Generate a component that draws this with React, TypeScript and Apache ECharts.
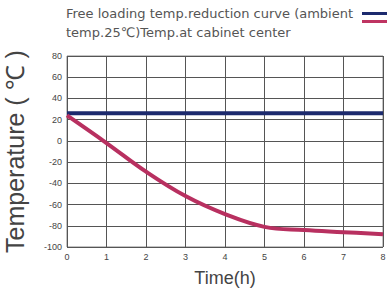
import React, { useEffect, useRef } from "react";
import * as echarts from "echarts";

const hours = [0, 1, 2, 3, 4, 5, 6, 7, 8];
const ambientTemp = [26, 26, 26, 26, 26, 26, 26, 26, 26];
const centerTemp = [24, -2, -29, -52, -69, -81, -84, -86, -88];
const legendLines = ["Free loading temp.reduction curve (ambient", "temp.25℃)Temp.at cabinet center"];
const seriesNames = ["Free loading temp.reduction curve (ambient temp.25℃)", "Temp.at cabinet center"];

export default function App() {
  const ref = useRef<HTMLDivElement>(null);
  useEffect(() => {
    const chart = echarts.init(ref.current!, null, { renderer: "svg" });
    const font = "Liberation Sans";
    chart.setOption({
      animation: false,
      textStyle: { fontFamily: font },
      legend: {
        orient: "vertical",
        left: 357,
        top: 7,
        align: "left",
        itemWidth: 26,
        itemHeight: 3,
        itemGap: 5,
        icon: "rect",
        data: seriesNames,
        formatter: () => "",
        textStyle: { fontSize: 12, lineHeight: 14 },
      },
      graphic: legendLines.map((t, i) => ({
        type: "text",
        left: 66,
        top: 7 + i * 19,
        style: { text: t, fontSize: 13, fill: "#555", fontFamily: "DejaVu Sans" },
      })),
      grid: {
        left: 67,
        right: 4,
        top: 56,
        bottom: 45,
        show: true,
        borderColor: "#888",
        borderWidth: 1,
        outerBoundsMode: "none",
        containLabel: false,
      },
      xAxis: {
        type: "value",
        min: 0,
        max: 8,
        interval: 1,
        name: "Time(h)",
        nameLocation: "middle",
        nameGap: 22,
        nameTextStyle: { fontSize: 18, color: "#444" },
        axisLine: { show: false },
        axisTick: { show: false },
        axisLabel: { fontSize: 9, color: "#444", margin: 5 },
        splitLine: { show: true, lineStyle: { color: "#555", width: 1 } },
      },
      yAxis: {
        type: "value",
        min: -100,
        max: 80,
        interval: 20,
        name: "Temperature ( ℃ )",
        nameLocation: "middle",
        nameGap: 40,
        nameTextStyle: { fontSize: 25, color: "#444" },
        axisLine: { show: false },
        axisTick: { show: false },
        axisLabel: { fontSize: 9, color: "#444", margin: 5 },
        splitLine: { show: true, lineStyle: { color: "#555", width: 1 } },
      },
      series: [
        {
          name: seriesNames[0],
          type: "line",
          data: hours.map((h, i) => [h, ambientTemp[i]]),
          showSymbol: false,
          itemStyle: { color: "#1c2a6e" },
          lineStyle: { color: "#1c2a6e", width: 4 },
        },
        {
          name: seriesNames[1],
          type: "line",
          data: hours.map((h, i) => [h, centerTemp[i]]),
          showSymbol: false,
          smooth: 0.4,
          itemStyle: { color: "#bf3462" },
          lineStyle: { color: "#b83060", width: 4 },
        },
      ],
    });
    return () => chart.dispose();
  }, []);
  return <div ref={ref} style={{ width: 387, height: 292, position: "absolute", left: 0, top: 0, background: "#fff" }} />;
}
